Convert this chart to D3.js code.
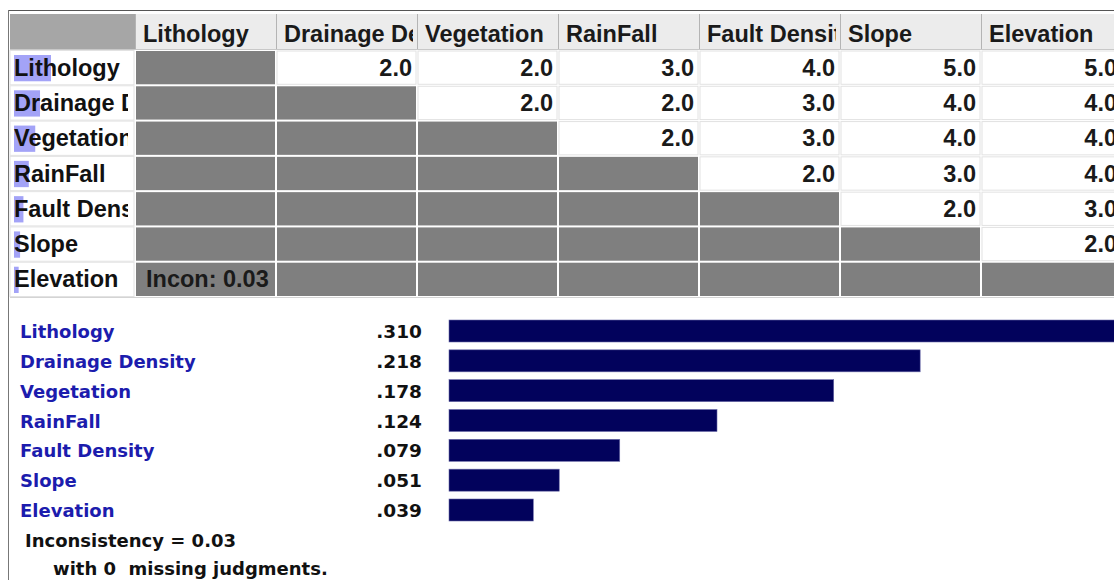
<!DOCTYPE html>
<html>
<head>
<meta charset="utf-8">
<script src="https://cdn.jsdelivr.net/npm/d3@7"></script>
<style>
  body { margin: 0; background: #fff; }
  svg { display: block; }
</style>
</head>
<body>
<svg id="chart" width="1114" height="580"></svg>
<script>
// criteria in the pairwise comparison
const criteria = ["Lithology", "Drainage Density", "Vegetation", "RainFall", "Fault Density", "Slope", "Elevation"];
// upper triangle judgments, one list per row (columns after the diagonal)
const judgments = [
    [2, 2, 3, 4, 5, 5],
    [2, 2, 3, 4, 4],
    [2, 3, 4, 4],
    [2, 3, 4],
    [2, 3],
    [2],
    []
];
const priorities = [0.310, 0.218, 0.178, 0.124, 0.079, 0.051, 0.039];
const priorityLabels = [".310", ".218", ".178", ".124", ".079", ".051", ".039"];
const inconsistency = "0.03";
const missing = 0;

const svg = d3.select("#chart");
const matrixFont = "'Liberation Sans', Arial, sans-serif";
const listFont = "'DejaVu Sans', Verdana, sans-serif";
const mSize = 23.5;

// frame
svg.append("line").attr("x1", 8).attr("x2", 1114).attr("y1", 10.5).attr("y2", 10.5)
    .attr("stroke", "#555").attr("stroke-width", 1);
svg.append("line").attr("x1", 8.5).attr("x2", 8.5).attr("y1", 10).attr("y2", 580)
    .attr("stroke", "#777").attr("stroke-width", 1);

// ---- comparison matrix ----
const xCol = d3.scaleBand().domain(criteria).range([135, 1122]);
const yRow = d3.scaleBand().domain(criteria).range([50, 297]);
const headTop = 14;
const labelX = 10;

const defs = svg.append("defs");
criteria.forEach((c, i) => {
    defs.append("clipPath").attr("id", "colclip" + i)
        .append("rect").attr("x", xCol(c)).attr("y", 0)
        .attr("width", xCol.bandwidth() - 4).attr("height", 300);
});
defs.append("clipPath").attr("id", "labclip")
    .append("rect").attr("x", labelX).attr("y", 0).attr("width", 118).attr("height", 300);

const matrix = svg.append("g");

// header
matrix.append("rect").attr("x", labelX).attr("y", headTop)
    .attr("width", 135 - labelX).attr("height", yRow.range()[0] - headTop)
    .attr("fill", "#a6a6a6");
const head = matrix.selectAll(".head").data(criteria).join("g").attr("class", "head");
head.append("rect")
    .attr("x", d => xCol(d)).attr("y", headTop)
    .attr("width", xCol.bandwidth()).attr("height", yRow.range()[0] - headTop)
    .attr("fill", "#ececec");
head.append("line")
    .attr("x1", d => xCol(d) + 0.5).attr("x2", d => xCol(d) + 0.5)
    .attr("y1", headTop).attr("y2", yRow.range()[0])
    .attr("stroke", "#b4b4b4");
head.append("text")
    .attr("clip-path", (d, i) => `url(#colclip${i})`)
    .attr("x", d => xCol(d) + 8).attr("y", 42)
    .attr("font-family", matrixFont).attr("font-weight", "bold").attr("font-size", mSize)
    .attr("fill", "#1a1a1a")
    .text(d => d);
matrix.append("line").attr("x1", labelX).attr("x2", 1114)
    .attr("y1", yRow.range()[0] - 0.5).attr("y2", yRow.range()[0] - 0.5)
    .attr("stroke", "#c8c8c8");

// cells
const cells = [];
criteria.forEach((r, i) => {
    criteria.forEach((c, j) => {
        cells.push({ row: r, col: c, i, j, v: j > i ? judgments[i][j - i - 1] : null });
    });
});
matrix.selectAll(".cell").data(cells).join("rect").attr("class", "cell")
    .attr("x", d => xCol(d.col) + 1).attr("y", d => yRow(d.row) + 1)
    .attr("width", xCol.bandwidth() - 2).attr("height", yRow.bandwidth() - 2)
    .attr("fill", d => d.v === null ? "#7f7f7f" : "#fff")
    .attr("stroke", d => d.v === null ? "none" : "#e2e2e2");
matrix.selectAll(".val").data(cells.filter(d => d.v !== null)).join("text").attr("class", "val")
    .attr("x", d => xCol(d.col) + xCol.bandwidth() - 5)
    .attr("y", d => yRow(d.row) + yRow.bandwidth() / 2 + 8)
    .attr("text-anchor", "end")
    .attr("font-family", matrixFont).attr("font-weight", "bold").attr("font-size", mSize)
    .attr("fill", "#1a1a1a")
    .text(d => d.v.toFixed(1));
matrix.append("text")
    .attr("x", xCol(criteria[0]) + 11)
    .attr("y", yRow(criteria[6]) + yRow.bandwidth() / 2 + 8)
    .attr("font-family", matrixFont).attr("font-weight", "bold").attr("font-size", mSize)
    .attr("fill", "#1a1a1a")
    .text("Incon: " + inconsistency);

// row labels with priority highlight
const hl = d3.scaleLinear().domain([0, 0.31]).range([0, 37]);
const rowLab = matrix.selectAll(".rowlab").data(criteria).join("g").attr("class", "rowlab");
rowLab.append("rect")
    .attr("x", labelX).attr("y", d => yRow(d) + 0.5)
    .attr("width", 135 - labelX - 1).attr("height", yRow.bandwidth() - 1)
    .attr("fill", "#fff").attr("stroke", "#e2e2e2");
rowLab.append("rect")
    .attr("x", 14).attr("y", d => yRow(d) + 5)
    .attr("width", (d, i) => hl(priorities[i])).attr("height", yRow.bandwidth() - 9)
    .attr("fill", "#a3a3f7");
rowLab.append("text")
    .attr("clip-path", "url(#labclip)")
    .attr("x", 14).attr("y", d => yRow(d) + yRow.bandwidth() / 2 + 8)
    .attr("font-family", matrixFont).attr("font-weight", "bold").attr("font-size", mSize)
    .attr("fill", "#111")
    .text(d => d);
matrix.append("line").attr("x1", labelX).attr("x2", 1114)
    .attr("y1", yRow.range()[1] + 0.5).attr("y2", yRow.range()[1] + 0.5)
    .attr("stroke", "#d4d4d4");

// ---- priorities bar list ----
const yList = d3.scalePoint().domain(criteria).range([331, 510]);
const xBar = d3.scaleLinear().domain([0, 0.31]).range([449, 1119]);
const barH = 22;
const list = svg.append("g");

list.selectAll(".name").data(criteria).join("text").attr("class", "name")
    .attr("x", 20).attr("y", d => yList(d) + 7)
    .attr("font-family", listFont).attr("font-weight", "bold").attr("font-size", 18)
    .attr("fill", "#1c1cad")
    .text(d => d);
list.selectAll(".pv").data(criteria).join("text").attr("class", "pv")
    .attr("x", 422).attr("y", d => yList(d) + 7)
    .attr("text-anchor", "end")
    .attr("font-family", listFont).attr("font-weight", "bold").attr("font-size", 18.5)
    .attr("fill", "#111")
    .text((d, i) => priorityLabels[i]);
list.selectAll(".bar").data(criteria).join("rect").attr("class", "bar")
    .attr("x", xBar(0)).attr("y", d => yList(d) - barH / 2)
    .attr("width", (d, i) => xBar(priorities[i]) - xBar(0)).attr("height", barH)
    .attr("fill", "#02025c").attr("stroke", "#6a6aa8").attr("stroke-width", 0.6);

list.append("text")
    .attr("x", 25).attr("y", 547)
    .attr("font-family", listFont).attr("font-weight", "bold").attr("font-size", 18)
    .attr("fill", "#111")
    .text("Inconsistency = " + inconsistency);
list.append("text")
    .attr("x", 53).attr("y", 575)
    .attr("font-family", listFont).attr("font-weight", "bold").attr("font-size", 18)
    .attr("fill", "#111")
    .attr("xml:space", "preserve")
    .text(`with ${missing}  missing judgments.`);
</script>
</body>
</html>
